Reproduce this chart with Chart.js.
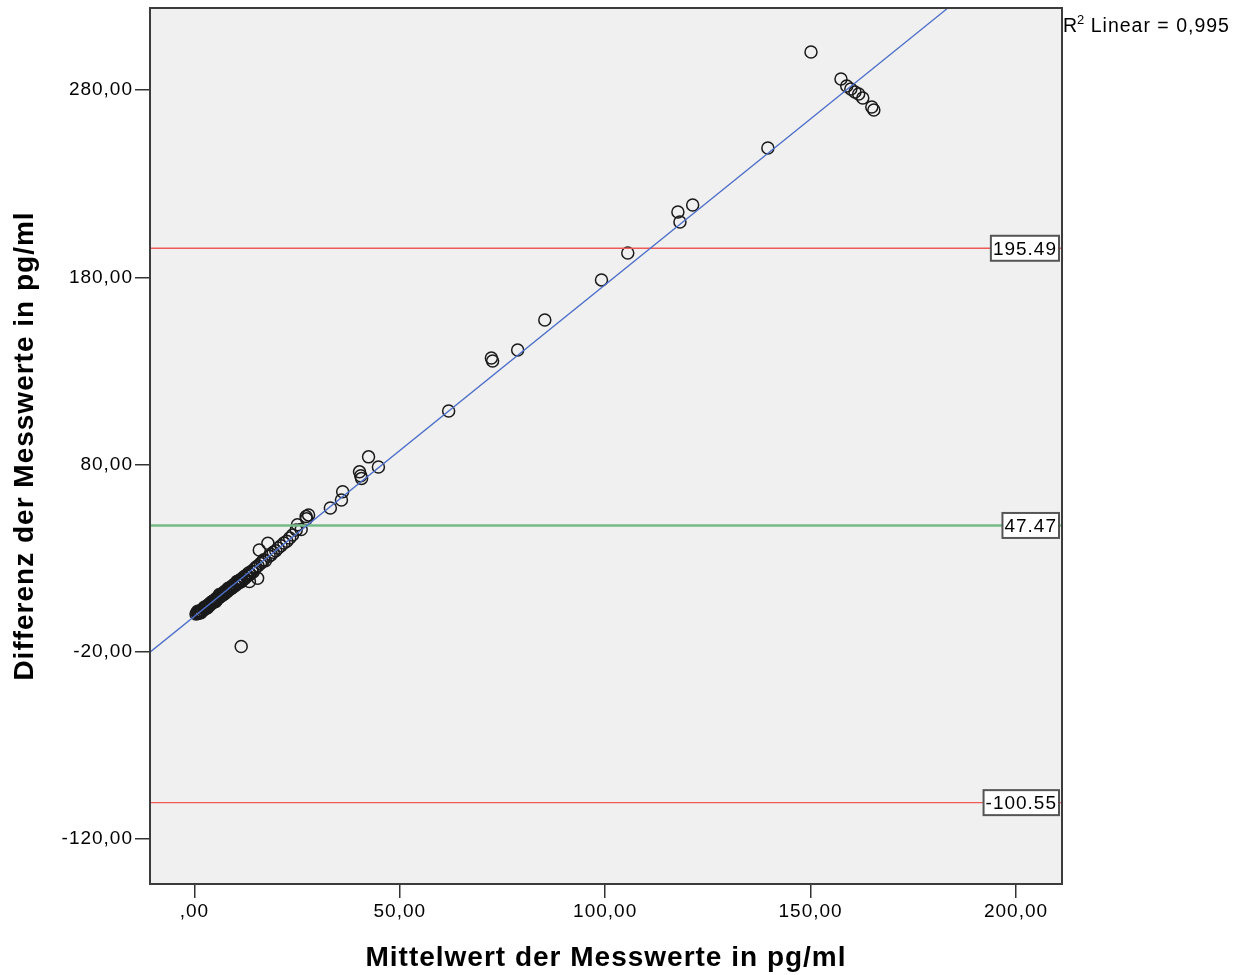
<!DOCTYPE html>
<html>
<head>
<meta charset="utf-8">
<script src="https://cdn.jsdelivr.net/npm/chart.js@4"></script>
<style>
  html, body { margin: 0; padding: 0; background: #ffffff; }
  #wrap { width: 1247px; height: 975px; position: relative; }
</style>
</head>
<body>
<div id="wrap"><canvas id="chart" width="1247" height="975"></canvas></div>
<script>
// Mittelwert (x) and Differenz (y) of each measurement pair, in pg/ml
const meanValues = [
  0.4, 0.6, 0.9, 1.1, 1.3, 1.5, 1.7, 1.9, 2.1, 2.3, 2.5, 2.7, 2.9, 3.1, 3.3, 3.5, 3.7, 3.9, 4.1, 4.4,
  4.6, 4.8, 5.0, 5.3, 5.5, 5.7, 6.0, 6.2, 6.4, 6.7, 6.9, 7.1, 7.4, 7.6, 7.9, 8.1, 8.4, 8.6, 8.9, 9.2,
  9.4, 9.7, 10.0, 10.2, 10.5, 10.8, 11.1, 11.4, 11.7, 12.0, 12.3, 12.6, 12.9,
  0.8, 1.6, 2.4, 3.2, 4.2, 5.2, 6.1, 7.2, 8.3, 9.3, 10.4, 11.5,
  13.4, 15.4, 13.2, 13.6, 14.0, 14.3, 14.7, 15.0, 15.5, 15.8, 16.1, 16.5, 16.9, 17.3, 17.9, 18.2,
  18.7, 19.2, 19.8, 20.4, 21.1, 21.8, 22.5, 23.2, 23.9, 24.8, 25.1, 26.0, 27.2, 27.3, 27.8,
  11.4,
  33.1, 35.8, 36.1, 40.2, 40.5, 40.7, 42.4, 44.8, 61.9, 72.3, 72.6, 78.7, 85.3, 99.1, 105.5,
  117.7, 118.2, 121.3, 139.6, 150.1,
  157.4, 158.8, 159.8, 160.8, 161.7, 162.7, 164.9, 165.4
];
const diffValues = [
  0.2, 0.9, 0.4, 1.3, 0.8, 1.9, 1.4, 2.6, 2.0, 3.1, 2.7, 3.9, 3.3, 4.6, 4.1, 5.2, 4.8, 6.0, 5.5, 6.9,
  6.3, 7.5, 7.0, 8.4, 7.8, 9.1, 8.9, 10.0, 9.6, 10.9, 10.3, 11.7, 11.2, 12.6, 12.0, 13.3, 13.0, 14.2, 13.7, 15.1,
  14.6, 16.0, 15.4, 16.9, 16.3, 17.9, 17.2, 18.8, 18.3, 19.9, 19.2, 20.8, 20.5,
  1.6, 0.9, 3.8, 3.5, 6.6, 6.9, 10.6, 10.7, 14.0, 14.3, 17.6, 17.6,
  17.5, 19.3, 22.1, 21.4, 23.2, 22.6, 24.3, 25.1, 25.9, 34.4, 27.2, 27.9, 29.1, 28.6, 38.0, 31.0,
  31.9, 33.2, 34.0, 35.4, 36.6, 38.1, 39.0, 40.8, 42.4, 45.1, 47.8, 45.3, 52.2, 51.0, 53.1,
  -17.2,
  56.8, 61.1, 65.5, 76.1, 74.0, 72.6, 84.1, 78.7, 108.6, 136.9, 135.3, 141.2, 157.2, 178.6, 193.0,
  214.9, 209.5, 218.6, 249.0, 300.3,
  285.9, 282.1, 280.5, 278.9, 277.9, 275.7, 270.9, 269.3
];

// Reference lines: mean difference and limits of agreement
const upperLimit = 195.49;
const meanDifference = 47.47;
const lowerLimit = -100.55;

// Linear fit of difference on mean
const fitIntercept = -1.05;
const fitSlope = 1.771;
const r2Label = 'Linear = 0,995';

// Axis ticks
const xTickValues = [0, 50, 100, 150, 200];
const xTickLabels = [',00', '50,00', '100,00', '150,00', '200,00'];
const yTickValues = [-120, -20, 80, 180, 280];
const yTickLabels = ['-120,00', '-20,00', '80,00', '180,00', '280,00'];

const xTitle = 'Mittelwert der Messwerte in pg/ml';
const yTitle = 'Differenz der Messwerte in pg/ml';

const xMin = -10.8, xMax = 211.2;
const yMin = -144, yMax = 323.8;

const scatterPoints = meanValues.map((m, i) => ({ x: m, y: diffValues[i] }));
const fitPoints = [xMin, xMax].map(x => ({ x: x, y: fitIntercept + fitSlope * x }));
const hLine = v => [{ x: xMin, y: v }, { x: xMax, y: v }];

const FONT = '"Liberation Sans", Arial, sans-serif';

// slightly spaced lettering for all canvas text
const canvasEl = document.getElementById('chart');
canvasEl.getContext('2d').letterSpacing = '1px';

const framePlugin = {
  id: 'frame',
  beforeInit(chart) { chart.ctx.letterSpacing = '1px'; },
  beforeDraw(chart) {
    const { ctx, chartArea: a } = chart;
    ctx.letterSpacing = '1px';
    ctx.save();
    ctx.fillStyle = '#ffffff';
    ctx.fillRect(0, 0, chart.width, chart.height);
    ctx.fillStyle = '#f0f0f0';
    ctx.fillRect(a.left, a.top, a.right - a.left, a.bottom - a.top);
    ctx.restore();
  },
  afterDatasetsDraw(chart) {
    const { ctx, chartArea: a, scales } = chart;
    ctx.save();
    // plot frame
    ctx.strokeStyle = '#3c3c3c';
    ctx.lineWidth = 2;
    ctx.strokeRect(a.left, a.top, a.right - a.left, a.bottom - a.top);

    // value boxes at the right end of each reference line
    ctx.font = '19px ' + FONT;
    ctx.textBaseline = 'middle';
    ctx.textAlign = 'left';
    [upperLimit, meanDifference, lowerLimit].forEach(v => {
      const txt = v.toFixed(2);
      const y = scales.y.getPixelForValue(v);
      const w = ctx.measureText(txt).width + 4;
      const h = 25;
      const right = a.right - 3;
      const left = right - w;
      ctx.fillStyle = '#ffffff';
      ctx.fillRect(left, y - h / 2, w, h);
      ctx.strokeStyle = '#555555';
      ctx.lineWidth = 2;
      ctx.strokeRect(left, y - h / 2, w, h);
      ctx.fillStyle = '#000000';
      ctx.fillText(txt, left + 2, y + 1);
    });

    // R² annotation outside the plot, top right
    const x0 = a.right + 1;
    const yb = 27;
    ctx.fillStyle = '#000000';
    ctx.font = '19.5px ' + FONT;
    ctx.fillText('R', x0, yb);
    const rw = ctx.measureText('R').width;
    ctx.font = '13px ' + FONT;
    ctx.fillText('2', x0 + rw - 1, yb - 7);
    const sw = ctx.measureText('2').width;
    ctx.font = '19.5px ' + FONT;
    ctx.fillText(' ' + r2Label, x0 + rw + sw - 2, yb);
    ctx.restore();
  }
};

new Chart(canvasEl, {
  type: 'scatter',
  data: {
    datasets: [
      {
        label: 'Messwerte',
        data: scatterPoints,
        pointStyle: 'circle',
        pointRadius: 6,
        pointHoverRadius: 6,
        borderColor: '#1a1a1a',
        borderWidth: 1.5,
        backgroundColor: 'rgba(0,0,0,0)',
        order: 5
      },
      {
        type: 'line', label: 'Fit', data: fitPoints,
        borderColor: '#4d6fc9', borderWidth: 1.3, pointRadius: 0, fill: false, order: 1
      },
      {
        type: 'line', label: 'Obere Grenze', data: hLine(upperLimit),
        borderColor: '#ee5a56', borderWidth: 1.4, pointRadius: 0, fill: false, order: 2
      },
      {
        type: 'line', label: 'Mittelwert', data: hLine(meanDifference),
        borderColor: '#74bb87', borderWidth: 2.4, pointRadius: 0, fill: false, order: 2
      },
      {
        type: 'line', label: 'Untere Grenze', data: hLine(lowerLimit),
        borderColor: '#ee5a56', borderWidth: 1.4, pointRadius: 0, fill: false, order: 2
      }
    ]
  },
  options: {
    responsive: false,
    animation: false,
    events: [],
    layout: { padding: { top: 8, right: 185, left: 0, bottom: 0 } },
    plugins: { legend: { display: false }, tooltip: { enabled: false } },
    scales: {
      x: {
        type: 'linear', min: xMin, max: xMax,
        border: { display: false },
        grid: { drawOnChartArea: false, drawTicks: true, tickLength: 14, color: '#333333', lineWidth: 1.5 },
        afterBuildTicks: s => { s.ticks = xTickValues.map(v => ({ value: v })); },
        afterFit: s => { s.height = 91; s.paddingLeft = 0; s.paddingRight = 0; },
        ticks: {
          padding: 2, color: '#000000', maxRotation: 0, autoSkip: false,
          font: { family: FONT, size: 19 },
          callback: (v) => xTickLabels[xTickValues.indexOf(v)]
        },
        title: {
          display: true, text: xTitle, color: '#000000',
          font: { family: FONT, size: 28, weight: 'bold' },
          padding: { top: 0, bottom: 0 }
        }
      },
      y: {
        type: 'linear', min: yMin, max: yMax,
        border: { display: false },
        grid: { drawOnChartArea: false, drawTicks: true, tickLength: 15, color: '#333333', lineWidth: 1.5 },
        afterBuildTicks: s => { s.ticks = yTickValues.map(v => ({ value: v })); },
        afterFit: s => { s.width = 150; s.paddingTop = 0; s.paddingBottom = 0; },
        ticks: {
          padding: 2, color: '#000000', autoSkip: false,
          font: { family: FONT, size: 19 },
          callback: (v) => yTickLabels[yTickValues.indexOf(v)]
        },
        title: {
          display: true, text: yTitle, color: '#000000',
          font: { family: FONT, size: 28, weight: 'bold' },
          padding: { top: 8, bottom: 0 }
        }
      }
    }
  },
  plugins: [framePlugin]
});
</script>
</body>
</html>
